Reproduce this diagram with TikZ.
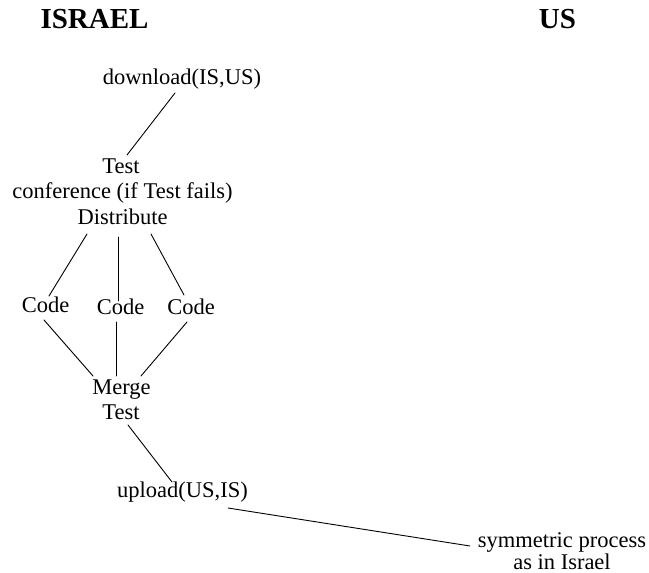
\documentclass[tikz,border=0pt]{standalone}
\usepackage{fontspec}
\setmainfont{Liberation Serif}
\usetikzlibrary{calc}
\tikzset{
  lbl/.style={anchor=base, inner sep=0pt, outer sep=0pt,
    font=\fontsize{22.5}{27}\selectfont},
  head/.style={anchor=base, inner sep=0pt, outer sep=0pt,
    font=\fontsize{29}{34}\selectfont\bfseries},
  link/.style={line width=0.9pt, line cap=round}
}
\begin{document}
\begin{tikzpicture}[x=1pt, y=-1pt]
  \useasboundingbox (0,0) rectangle (649,573);

  % column headings
  \node[head] (israel) at (94.5,28) {ISRAEL};
  \node[head] (us)     at (557.5,28) {US};

  % Israel side of the process
  \node[lbl] (dl)    at (182,84)    {download(IS,US)};
  \node[lbl] (test)  at (121,173)   {Test};
  \node[lbl] (conf)  at (122.5,198.5) {conference (if Test fails)};
  \node[lbl] (dist)  at (122.5,224) {Distribute};
  \node[lbl] (codeL) at (45.5,312)  {Code};
  \node[lbl] (codeM) at (120.5,314) {Code};
  \node[lbl] (codeR) at (191,314)   {Code};
  \node[lbl] (merge) at (121.5,394) {Merge};
  \node[lbl] (mtest) at (121,419)   {Test};
  \node[lbl] (up)    at (182.5,497) {upload(US,IS)};
  \node[lbl] (sym)   at (562,547)   {symmetric process};
  \node[lbl] (syms)  at (562,569)   {as in Israel};

  % connectors
  \draw[link] ($(dl.base)+(-7,9)$) -- ($(test.base)+(6,-18)$);
  \draw[link] ($(dist.base)+(-35.5,10)$) -- ($(codeL.base)+(3.5,-16)$);
  \draw[link] ($(dist.base)+(-4.5,13)$) -- ($(codeM.base)+(-2.5,-13)$);
  \draw[link] ($(dist.base)+(28.5,10)$) -- ($(codeR.base)+(-7,-19)$);
  \draw[link] ($(codeL.base)+(-1.5,8)$) -- ($(merge.base)+(-28.5,-18)$);
  \draw[link] ($(codeM.base)+(-4.5,8)$) -- ($(merge.base)+(-5.5,-18)$);
  \draw[link] ($(codeR.base)+(-4,8)$) -- ($(merge.base)+(19.5,-18)$);
  \draw[link] ($(mtest.base)+(7,6)$) -- ($(up.base)+(-10.5,-15)$);
  \draw[link] ($(up.base)+(45.5,11)$) -- ($(sym.base)+(-92,-1)$);
\end{tikzpicture}
\end{document}
